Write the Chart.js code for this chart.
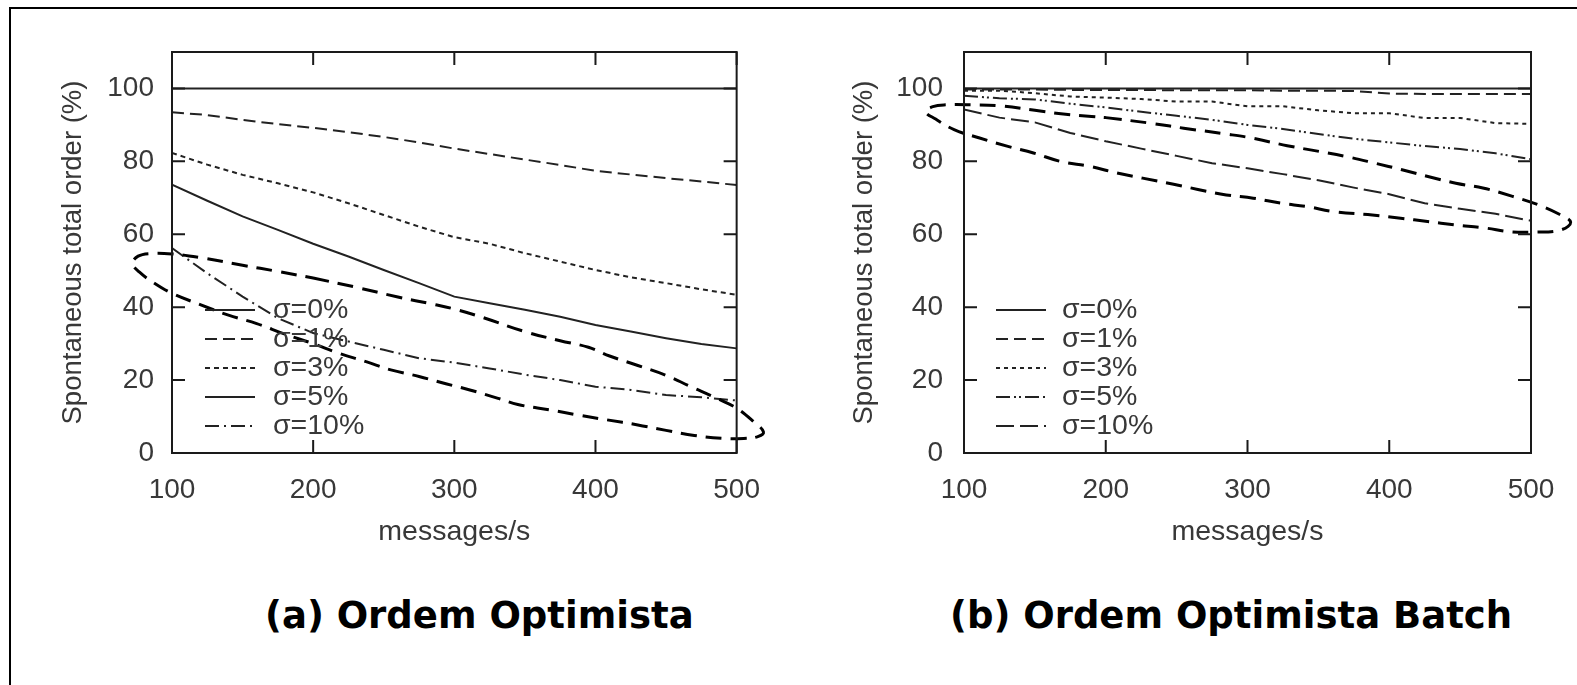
<!DOCTYPE html>
<html><head><meta charset="utf-8">
<script src="https://cdn.jsdelivr.net/npm/chart.js@4/dist/chart.umd.min.js"></script>
<style>
html,body{margin:0;padding:0;background:#fff;width:1577px;height:685px;overflow:hidden;}
#frame{position:absolute;left:9px;top:7px;width:1600px;height:700px;border-top:2px solid #000;border-left:2px solid #000;}
.wrap{position:absolute;top:0;}
.title{position:absolute;font-family:"DejaVu Sans";font-weight:bold;font-size:37px;line-height:37px;color:#000;white-space:nowrap;top:597px;}
</style></head><body>
<div id="frame"></div>
<div class="wrap" style="left:40px;"><canvas id="c1" width="740" height="560"></canvas></div>
<div class="wrap" style="left:830px;"><canvas id="c2" width="747" height="560"></canvas></div>
<div class="title" style="left:265px;">(a) Ordem Optimista</div>
<div class="title" style="left:950px;">(b) Ordem Optimista Batch</div>
<script>
// ---- data ----
const messagesRate = [100,125,150,175,200,225,250,275,300,325,350,375,400,425,450,475,500];
const seriesLabels = ['σ=0%','σ=1%','σ=3%','σ=5%','σ=10%'];
const xTickValues = [100,200,300,400,500];
const yTickValues = [0,20,40,60,80,100];

// (a) Ordem Optimista
const optSigma0  = [100,100,100,100,100,100,100,100,100,100,100,100,100,100,100,100,100];
const optSigma1  = [93.5,92.7,91.4,90.2,89.2,88,86.7,85.2,83.5,82,80.5,79,77.4,76.4,75.4,74.5,73.5];
const optSigma3  = [82.3,79.1,76.3,74,71.5,68.5,65.3,62.1,59.2,57.4,54.8,52.5,50.2,48.2,46.6,44.9,43.4];
const optSigma5  = [73.6,69.2,64.9,61.2,57.4,53.9,50.2,46.6,42.9,41.1,39.3,37.4,35.1,33.3,31.5,29.9,28.7];
const optSigma10 = [56.2,49.3,42.9,37,32.9,30.6,28.3,26,24.8,23.2,21.5,20,18.2,17.3,15.9,15.3,14.4];

// (b) Ordem Optimista Batch
const batchSigma0  = [100,100,100,100,100,100,100,100,100,100,100,100,100,100,100,100,100];
const batchSigma1  = [99.7,99.7,99.7,99.6,99.6,99.6,99.5,99.5,99.5,99.4,99.4,99.3,98.6,98.5,98.5,98.5,98.5];
const batchSigma3  = [99.4,99.4,98.7,97.8,97.5,97.1,96.4,96.4,95.1,95.1,94,93.2,93.2,91.9,91.9,90.5,90.3];
const batchSigma5  = [98,97.3,97,95.8,94.8,93.6,92.5,91.4,90,88.9,87.5,86.2,85.2,84.2,83.4,82.2,80.6];
const batchSigma10 = [94.2,92,90.7,87.8,85.5,83.5,81.5,79.5,78.1,76.5,74.8,72.8,71,68.5,67,65.6,63.7];

// hand-drawn dashed ellipse annotations (data coordinates)
const ellipseA_x = [200,230,260,285,300,320,350,375,395,410,430,450,467,486,500,512,519,515,505,490,470,450,430,408,388,368,345,331,311,294,275,255,238,218,200,180,160,140,120,100,87,77,72,76,84,100,120,150,175,200];
const ellipseA_y = [48,45.5,42.8,40.8,39.5,37.2,33.3,30.8,29,26.6,24,21.3,18.3,15,12.3,8.6,5.8,4.5,4,4,4.8,6.2,7.7,9.1,10.4,11.8,13.3,15,17.3,19,21,22.8,25,27.4,30,32.6,35.5,37.8,40.7,43.8,46.7,49.6,52,54,54.7,54.6,53.6,51.5,49.8,48];
const ellipseB_x = [200,231,255,285,303,328,351,370,390,409,428,447,466,487,505,520,528,521,502,485,468,446,427,408,388,361,342,324,304,285,265,247,226,208,189,168,149,131,111,93,80,73,78,87,106,126,150,170,190,200];
const ellipseB_y = [92,90.5,89.1,87.5,86.4,84.3,82.7,81.3,79.5,77.7,75.8,74,72.7,70.4,68.1,65.5,63.3,61.2,60.6,60.7,61.7,62.6,63.5,64.4,65.3,66.2,67.6,68.5,69.9,70.8,72.3,73.8,75.4,76.8,78.6,80,82.3,84.1,86.4,88.7,91.6,93.6,95,95.5,95.5,95.2,94,93,92.3,92];

// ---- styles ----
const dashesA = [[], [12,6], [5,4], [], [14,5,2,5]];
const dashesB = [[], [12,6], [4,4], [14,4,2,3,2,4], [18,6]];
const tickFont = {family:'Liberation Sans', size:28};
const xTitleFont = {family:'Liberation Sans', size:28.5};
const yTitleFont = {family:'Liberation Sans', size:27.5};
const textColor = '#383838';

const framePlugin = {
  id:'frameTicks',
  afterDraw(chart, args, opts){
    const ctx = chart.ctx, a = chart.chartArea;
    const xs = chart.scales.x, ys = chart.scales.y;
    ctx.save();
    ctx.strokeStyle = '#1a1a1a';
    ctx.lineWidth = 2;
    ctx.beginPath();
    xTickValues.forEach(v=>{
      const px = xs.getPixelForValue(v);
      ctx.moveTo(px, a.bottom); ctx.lineTo(px, a.bottom-13);
      ctx.moveTo(px, a.top); ctx.lineTo(px, a.top+13);
    });
    yTickValues.forEach(v=>{
      const py = ys.getPixelForValue(v);
      ctx.moveTo(a.left, py); ctx.lineTo(a.left+13, py);
      ctx.moveTo(a.right, py); ctx.lineTo(a.right-13, py);
    });
    ctx.stroke();
    ctx.strokeRect(a.left, a.top, a.right-a.left, a.bottom-a.top);
    // legend
    const lg = opts;
    ctx.font = '28.5px "Liberation Sans"';
    ctx.fillStyle = textColor;
    ctx.textBaseline = 'middle';
    ctx.textAlign = 'left';
    chart.data.datasets.forEach((ds)=>{
      if (!seriesLabels.includes(ds.label)) return;
      const k = seriesLabels.indexOf(ds.label);
      const y = a.top + 258 + k*29;
      ctx.save();
      ctx.strokeStyle = ds.borderColor;
      ctx.lineWidth = 2;
      ctx.setLineDash(ds.borderDash || []);
      ctx.beginPath();
      ctx.moveTo(a.left + lg.sx0, y); ctx.lineTo(a.left + lg.sx1, y);
      ctx.stroke();
      ctx.restore();
      ctx.fillText(ds.label, a.left + lg.tx, y);
    });
    ctx.restore();
  }
};

function makeChart(id, series, dashes, ex, ey, pad, yTitlePad, yTickPad, legendPos){
  const datasets = [{
    label:'annotation',
    data: ex.map((x,i)=>({x:x, y:ey[i]})),
    borderColor:'#000', borderWidth:3, borderDash:[16,9],
    tension:0.4, capBezierPoints:false, clip:false, pointRadius:0, order:0
  }];
  series.forEach((s,k)=>{
    datasets.push({
      label: seriesLabels[k],
      data: messagesRate.map((x,i)=>({x:x, y:s[i]})),
      borderColor:'#222', borderWidth:2, borderDash:dashes[k],
      pointRadius:0, tension:0, order:1
    });
  });
  return new Chart(document.getElementById(id), {
    type:'line',
    data:{datasets},
    plugins:[framePlugin],
    options:{
      responsive:false, animation:false,
      layout:{padding:pad},
      plugins:{legend:{display:false}, tooltip:{enabled:false}, frameTicks:legendPos},
      scales:{
        x:{type:'linear', min:100, max:500,
          afterBuildTicks:s=>{s.ticks = xTickValues.map(v=>({value:v}));},
          afterFit:s=>{s.height = 107;},
          grid:{display:false, drawTicks:false}, border:{display:false},
          ticks:{padding:20, font:tickFont, color:textColor, maxRotation:0, autoSkip:false},
          title:{display:true, text:'messages/s', font:xTitleFont, color:textColor, padding:{top:0,bottom:11}}
        },
        y:{type:'linear', min:0, max:110,
          afterBuildTicks:s=>{s.ticks = yTickValues.map(v=>({value:v}));},
          afterFit:s=>{s.width = pad.yw;},
          grid:{display:false, drawTicks:false}, border:{display:false},
          ticks:{padding:yTickPad, font:tickFont, color:textColor, autoSkip:false},
          title:{display:true, text:'Spontaneous total order (%)', font:yTitleFont, color:textColor, padding:{top:yTitlePad,bottom:0}}
        }
      }
    }
  });
}

makeChart('c1', [optSigma0,optSigma1,optSigma3,optSigma5,optSigma10], dashesA, ellipseA_x, ellipseA_y,
  {top:52,right:41,left:0,bottom:0,yw:132}, 17, 18, {sx0:33,sx1:83,tx:101});
makeChart('c2', [batchSigma0,batchSigma1,batchSigma3,batchSigma5,batchSigma10], dashesB, ellipseB_x, ellipseB_y,
  {top:52,right:46,left:0,bottom:0,yw:134}, 18, 21, {sx0:32,sx1:82,tx:98});
</script>
</body></html>
